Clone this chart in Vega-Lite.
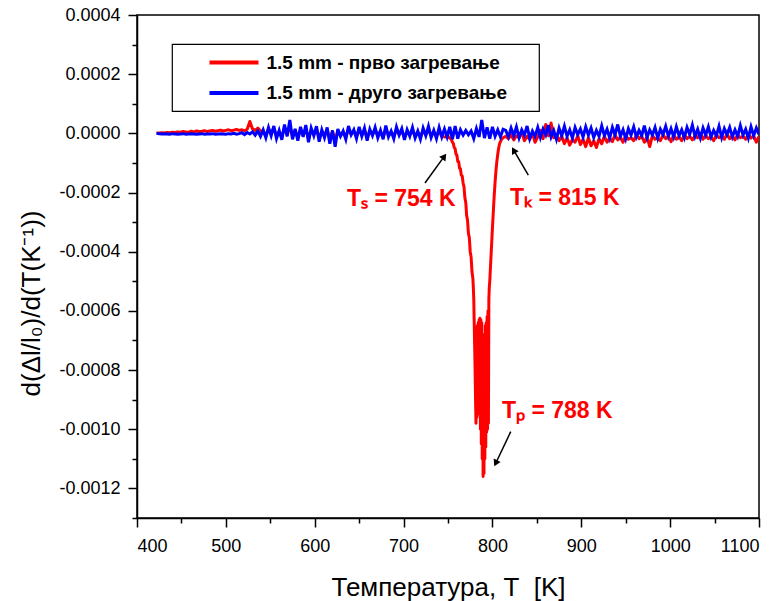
{
"$schema": "https://vega.github.io/schema/vega-lite/v6.json",
"width": 622, "height": 503,
"autosize": {"type": "none"},
"padding": {"left": 137, "top": 15, "right": 22, "bottom": 83},
"background": "white",
"datasets": {
"red": [
{"T":422,"v":0},{"T":425,"v":1e-6},{"T":428,"v":2e-6},{"T":431,"v":1e-6},{"T":434,"v":3e-6},{"T":437,"v":2e-6},{"T":440,"v":4e-6},{"T":443,"v":3e-6},{"T":446,"v":5e-6},{"T":449,"v":4e-6},{"T":452,"v":6e-6},{"T":455,"v":5e-6},{"T":458,"v":4e-6},{"T":461,"v":7e-6},{"T":464,"v":5e-6},{"T":467,"v":8e-6},{"T":470,"v":6e-6},{"T":473,"v":7e-6},{"T":476,"v":9e-6},{"T":479,"v":6e-6},{"T":482,"v":8e-6},{"T":485,"v":10e-6},{"T":488,"v":7e-6},{"T":491,"v":9e-6},{"T":494,"v":11e-6},{"T":497,"v":8e-6},{"T":500,"v":10e-6},{"T":503,"v":12e-6},{"T":506,"v":9e-6},{"T":509,"v":11e-6},{"T":512,"v":13e-6},{"T":515,"v":10e-6},{"T":518,"v":12e-6},{"T":521,"v":9e-6},{"T":524,"v":14e-6},{"T":527,"v":40e-6},{"T":530,"v":15e-6},{"T":533,"v":10e-6},{"T":536,"v":18e-6},{"T":539,"v":8e-6},
{"T":542,"v":5e-6},{"T":545,"v":-8e-6},{"T":548,"v":15e-6},{"T":551,"v":0},{"T":554,"v":18e-6},{"T":557,"v":-10e-6},{"T":560,"v":5e-6},{"T":563,"v":-12e-6},{"T":566,"v":20e-6},{"T":569,"v":-5e-6},{"T":572,"v":25e-6},{"T":575,"v":-10e-6},{"T":578,"v":10e-6},{"T":581,"v":-15e-6},{"T":584,"v":12e-6},{"T":587,"v":-6e-6},{"T":590,"v":15e-6},{"T":593,"v":-18e-6},{"T":596,"v":10e-6},{"T":599,"v":-4e-6},{"T":602,"v":14e-6},{"T":605,"v":-16e-6},{"T":608,"v":6e-6},{"T":611,"v":-8e-6},{"T":614,"v":12e-6},{"T":617,"v":-20e-6},{"T":620,"v":6e-6},{"T":623,"v":-25e-6},{"T":626,"v":8e-6},{"T":629,"v":-6e-6},{"T":632,"v":4e-6},{"T":635,"v":-12e-6},{"T":638,"v":15e-6},{"T":641,"v":-3e-6},{"T":644,"v":8e-6},{"T":647,"v":-10e-6},{"T":650,"v":12e-6},{"T":653,"v":-6e-6},{"T":656,"v":10e-6},{"T":659,"v":-14e-6},{"T":662,"v":8e-6},{"T":665,"v":-4e-6},{"T":668,"v":12e-6},{"T":671,"v":-8e-6},{"T":674,"v":6e-6},{"T":677,"v":-12e-6},{"T":680,"v":15e-6},{"T":683,"v":-6e-6},{"T":686,"v":4e-6},{"T":689,"v":-10e-6},{"T":692,"v":12e-6},{"T":695,"v":-4e-6},{"T":698,"v":8e-6},{"T":701,"v":-12e-6},{"T":704,"v":6e-6},{"T":707,"v":-6e-6},{"T":710,"v":10e-6},{"T":713,"v":-10e-6},{"T":716,"v":4e-6},{"T":719,"v":-12e-6},{"T":722,"v":10e-6},{"T":725,"v":-5e-6},{"T":728,"v":12e-6},{"T":731,"v":-8e-6},{"T":734,"v":5e-6},{"T":737,"v":-10e-6},{"T":740,"v":8e-6},{"T":743,"v":-10e-6},{"T":746,"v":-12e-6},
{"T":747,"v":-12e-6},{"T":748,"v":-10e-6},{"T":749,"v":-12e-6},{"T":750,"v":-14e-6},{"T":751,"v":-12e-6},{"T":752,"v":-16e-6},{"T":753,"v":-18e-6},{"T":754,"v":-22e-6},{"T":755,"v":-30e-6},{"T":756,"v":-34e-6},{"T":757,"v":-48e-6},{"T":758,"v":-52e-6},{"T":759,"v":-70e-6},{"T":760,"v":-74e-6},{"T":761,"v":-95e-6},{"T":762,"v":-96e-6},{"T":763,"v":-118e-6},{"T":764,"v":-120e-6},{"T":765,"v":-142e-6},{"T":766,"v":-144e-6},{"T":767,"v":-168e-6},{"T":768,"v":-180e-6},{"T":769,"v":-218e-6},{"T":770,"v":-234e-6},{"T":771,"v":-278e-6},{"T":772,"v":-294e-6},{"T":773,"v":-338e-6},{"T":774,"v":-352e-6},{"T":775,"v":-400e-6},{"T":776,"v":-418e-6},{"T":777,"v":-468e-6},{"T":778,"v":-490e-6},
{"T":778.5,"v":-520e-6},{"T":779,"v":-560e-6},{"T":779.5,"v":-640e-6},{"T":780,"v":-720e-6},{"T":780.5,"v":-800e-6},{"T":781,"v":-900e-6},{"T":781.5,"v":-980e-6},{"T":782,"v":-700e-6},{"T":782.5,"v":-960e-6},{"T":783,"v":-650e-6},{"T":783.5,"v":-920e-6},{"T":784,"v":-640e-6},{"T":784.5,"v":-900e-6},{"T":785,"v":-630e-6},{"T":785.5,"v":-950e-6},{"T":786,"v":-625e-6},{"T":786.5,"v":-1000e-6},{"T":787,"v":-630e-6},{"T":787.5,"v":-1050e-6},{"T":788,"v":-640e-6},{"T":788.5,"v":-1100e-6},{"T":789,"v":-700e-6},{"T":789.5,"v":-1160e-6},{"T":790,"v":-720e-6},{"T":790.5,"v":-1150e-6},{"T":791,"v":-680e-6},{"T":791.5,"v":-1100e-6},{"T":792,"v":-650e-6},{"T":792.5,"v":-1060e-6},{"T":793,"v":-640e-6},{"T":793.5,"v":-1010e-6},{"T":794,"v":-620e-6},{"T":794.5,"v":-1000e-6},{"T":795,"v":-600e-6},{"T":795.5,"v":-980e-6},{"T":796,"v":-560e-6},{"T":796.5,"v":-520e-6},{"T":797,"v":-500e-6},
{"T":798,"v":-440e-6},{"T":799,"v":-380e-6},{"T":800,"v":-320e-6},{"T":801,"v":-265e-6},{"T":802,"v":-210e-6},{"T":803,"v":-165e-6},{"T":804,"v":-125e-6},{"T":805,"v":-95e-6},{"T":806,"v":-70e-6},{"T":807,"v":-50e-6},{"T":808,"v":-36e-6},{"T":809,"v":-28e-6},{"T":810,"v":-22e-6},{"T":811,"v":-18e-6},{"T":812,"v":-15e-6},
{"T":815,"v":-10e-6},{"T":818,"v":-18e-6},{"T":821,"v":-5e-6},{"T":824,"v":-22e-6},{"T":827,"v":-8e-6},{"T":830,"v":-15e-6},{"T":833,"v":5e-6},{"T":836,"v":-25e-6},{"T":839,"v":-10e-6},{"T":842,"v":-20e-6},{"T":845,"v":0},{"T":848,"v":-30e-6},{"T":851,"v":-12e-6},{"T":854,"v":10e-6},{"T":857,"v":-18e-6},{"T":860,"v":30e-6},{"T":863,"v":-8e-6},{"T":866,"v":35e-6},{"T":869,"v":-15e-6},{"T":872,"v":-5e-6},{"T":875,"v":-25e-6},{"T":878,"v":-10e-6},{"T":881,"v":-35e-6},{"T":884,"v":-15e-6},{"T":887,"v":-40e-6},{"T":890,"v":-20e-6},{"T":893,"v":-30e-6},{"T":896,"v":-8e-6},{"T":899,"v":-38e-6},{"T":902,"v":-20e-6},{"T":905,"v":-45e-6},{"T":908,"v":-15e-6},{"T":911,"v":-42e-6},{"T":914,"v":-25e-6},{"T":917,"v":-48e-6},{"T":920,"v":-18e-6},{"T":923,"v":-35e-6},{"T":926,"v":-10e-6},{"T":929,"v":-30e-6},{"T":932,"v":-15e-6},{"T":935,"v":-28e-6},{"T":938,"v":-5e-6},{"T":941,"v":-22e-6},{"T":944,"v":-12e-6},{"T":947,"v":-30e-6},{"T":950,"v":-8e-6},{"T":953,"v":-20e-6},{"T":956,"v":-15e-6},{"T":959,"v":-25e-6},{"T":962,"v":-5e-6},{"T":965,"v":-18e-6},{"T":968,"v":-10e-6},{"T":971,"v":-30e-6},{"T":974,"v":-12e-6},{"T":977,"v":-45e-6},{"T":980,"v":-8e-6},{"T":983,"v":-20e-6},{"T":986,"v":-15e-6},{"T":989,"v":-25e-6},{"T":992,"v":-5e-6},{"T":995,"v":-18e-6},{"T":998,"v":-10e-6},{"T":1001,"v":-28e-6},{"T":1004,"v":-6e-6},{"T":1007,"v":-20e-6},{"T":1010,"v":-12e-6},{"T":1013,"v":-25e-6},{"T":1016,"v":-4e-6},{"T":1019,"v":-18e-6},{"T":1022,"v":-10e-6},{"T":1025,"v":-22e-6},{"T":1028,"v":-8e-6},{"T":1031,"v":-15e-6},{"T":1034,"v":0},{"T":1037,"v":-20e-6},{"T":1040,"v":-6e-6},{"T":1043,"v":-18e-6},{"T":1046,"v":-12e-6},{"T":1049,"v":-25e-6},{"T":1052,"v":-5e-6},{"T":1055,"v":-15e-6},{"T":1058,"v":-10e-6},{"T":1061,"v":-20e-6},{"T":1064,"v":-2e-6},{"T":1067,"v":-18e-6},{"T":1070,"v":-8e-6},{"T":1073,"v":-22e-6},{"T":1076,"v":-5e-6},{"T":1079,"v":-15e-6},{"T":1082,"v":-10e-6},{"T":1085,"v":-20e-6},{"T":1088,"v":-4e-6},{"T":1091,"v":-16e-6},{"T":1094,"v":-8e-6},{"T":1097,"v":-30e-6},{"T":1100,"v":-10e-6}
],
"blue": [
{"T":422,"v":0},{"T":425,"v":-1e-6},{"T":428,"v":-2e-6},{"T":431,"v":-1e-6},{"T":434,"v":-2e-6},{"T":437,"v":-3e-6},{"T":440,"v":-1e-6},{"T":443,"v":-2e-6},{"T":446,"v":-3e-6},{"T":449,"v":-2e-6},{"T":452,"v":-1e-6},{"T":455,"v":-3e-6},{"T":458,"v":-2e-6},{"T":461,"v":-1e-6},{"T":464,"v":-2e-6},{"T":467,"v":-3e-6},{"T":470,"v":-2e-6},{"T":473,"v":-1e-6},{"T":476,"v":-3e-6},{"T":479,"v":-2e-6},{"T":482,"v":-2e-6},{"T":485,"v":-1e-6},{"T":488,"v":-3e-6},{"T":491,"v":-2e-6},{"T":494,"v":-1e-6},{"T":497,"v":-2e-6},{"T":500,"v":-3e-6},{"T":503,"v":-1e-6},{"T":506,"v":-2e-6},{"T":509,"v":0},{"T":512,"v":-3e-6},{"T":515,"v":-1e-6},{"T":518,"v":2e-6},{"T":521,"v":-4e-6},{"T":524,"v":3e-6},{"T":527,"v":-2e-6},{"T":530,"v":5e-6},{"T":533,"v":-6e-6},{"T":536,"v":8e-6},{"T":539,"v":-10e-6},
{"T":542,"v":12e-6},{"T":545,"v":-15e-6},{"T":548,"v":20e-6},{"T":551,"v":-8e-6},{"T":554,"v":25e-6},{"T":557,"v":-18e-6},{"T":560,"v":10e-6},{"T":563,"v":-22e-6},{"T":566,"v":30e-6},{"T":569,"v":-10e-6},{"T":572,"v":45e-6},{"T":575,"v":-20e-6},{"T":578,"v":15e-6},{"T":581,"v":-25e-6},{"T":584,"v":22e-6},{"T":587,"v":-12e-6},{"T":590,"v":28e-6},{"T":593,"v":-30e-6},{"T":596,"v":18e-6},{"T":599,"v":-8e-6},{"T":602,"v":24e-6},{"T":605,"v":-28e-6},{"T":608,"v":12e-6},{"T":611,"v":-15e-6},{"T":614,"v":20e-6},{"T":617,"v":-35e-6},{"T":620,"v":10e-6},{"T":623,"v":-45e-6},{"T":626,"v":15e-6},{"T":629,"v":-10e-6},{"T":632,"v":8e-6},{"T":635,"v":-20e-6},{"T":638,"v":25e-6},{"T":641,"v":-5e-6},{"T":644,"v":12e-6},{"T":647,"v":-18e-6},{"T":650,"v":22e-6},{"T":653,"v":-10e-6},{"T":656,"v":18e-6},{"T":659,"v":-25e-6},{"T":662,"v":14e-6},{"T":665,"v":-8e-6},{"T":668,"v":20e-6},{"T":671,"v":-15e-6},{"T":674,"v":10e-6},{"T":677,"v":-20e-6},{"T":680,"v":26e-6},{"T":683,"v":-12e-6},{"T":686,"v":8e-6},{"T":689,"v":-18e-6},{"T":692,"v":22e-6},{"T":695,"v":-6e-6},{"T":698,"v":16e-6},{"T":701,"v":-22e-6},{"T":704,"v":12e-6},{"T":707,"v":-10e-6},{"T":710,"v":20e-6},{"T":713,"v":-16e-6},{"T":716,"v":8e-6},{"T":719,"v":-20e-6},{"T":722,"v":18e-6},{"T":725,"v":-8e-6},{"T":728,"v":24e-6},{"T":731,"v":-14e-6},{"T":734,"v":10e-6},{"T":737,"v":-18e-6},{"T":740,"v":20e-6},{"T":743,"v":-12e-6},{"T":746,"v":15e-6},
{"T":749,"v":-12e-6},{"T":752,"v":22e-6},{"T":755,"v":-20e-6},{"T":758,"v":25e-6},{"T":761,"v":-18e-6},{"T":764,"v":12e-6},{"T":767,"v":-6e-6},{"T":770,"v":10e-6},{"T":773,"v":-5e-6},{"T":776,"v":8e-6},{"T":779,"v":-18e-6},{"T":782,"v":16e-6},{"T":785,"v":-12e-6},{"T":788,"v":45e-6},{"T":791,"v":-16e-6},{"T":794,"v":20e-6},{"T":797,"v":-18e-6},{"T":800,"v":22e-6},{"T":803,"v":-10e-6},{"T":806,"v":12e-6},{"T":809,"v":-12e-6},{"T":812,"v":14e-6},
{"T":815,"v":10e-6},{"T":818,"v":-12e-6},{"T":821,"v":18e-6},{"T":824,"v":-8e-6},{"T":827,"v":22e-6},{"T":830,"v":-15e-6},{"T":833,"v":12e-6},{"T":836,"v":-6e-6},{"T":839,"v":25e-6},{"T":842,"v":-18e-6},{"T":845,"v":8e-6},{"T":848,"v":-10e-6},{"T":851,"v":20e-6},{"T":854,"v":-14e-6},{"T":857,"v":15e-6},{"T":860,"v":-5e-6},{"T":863,"v":28e-6},{"T":866,"v":-12e-6},{"T":869,"v":10e-6},{"T":872,"v":-20e-6},{"T":875,"v":18e-6},{"T":878,"v":-8e-6},{"T":881,"v":24e-6},{"T":884,"v":-10e-6},{"T":887,"v":12e-6},{"T":890,"v":-16e-6},{"T":893,"v":20e-6},{"T":896,"v":-4e-6},{"T":899,"v":15e-6},{"T":902,"v":-12e-6},{"T":905,"v":22e-6},{"T":908,"v":-6e-6},{"T":911,"v":18e-6},{"T":914,"v":-14e-6},{"T":917,"v":10e-6},{"T":920,"v":-10e-6},{"T":923,"v":25e-6},{"T":926,"v":-8e-6},{"T":929,"v":14e-6},{"T":932,"v":-16e-6},{"T":935,"v":20e-6},{"T":938,"v":-5e-6},{"T":941,"v":30e-6},{"T":944,"v":-10e-6},{"T":947,"v":12e-6},{"T":950,"v":-18e-6},{"T":953,"v":16e-6},{"T":956,"v":-6e-6},{"T":959,"v":22e-6},{"T":962,"v":-12e-6},{"T":965,"v":10e-6},{"T":968,"v":-8e-6},{"T":971,"v":26e-6},{"T":974,"v":-14e-6},{"T":977,"v":12e-6},{"T":980,"v":-6e-6},{"T":983,"v":20e-6},{"T":986,"v":-16e-6},{"T":989,"v":14e-6},{"T":992,"v":-4e-6},{"T":995,"v":24e-6},{"T":998,"v":-10e-6},{"T":1001,"v":16e-6},{"T":1004,"v":-12e-6},{"T":1007,"v":22e-6},{"T":1010,"v":-8e-6},{"T":1013,"v":12e-6},{"T":1016,"v":-14e-6},{"T":1019,"v":20e-6},{"T":1022,"v":-4e-6},{"T":1025,"v":28e-6},{"T":1028,"v":-10e-6},{"T":1031,"v":14e-6},{"T":1034,"v":-16e-6},{"T":1037,"v":18e-6},{"T":1040,"v":-6e-6},{"T":1043,"v":22e-6},{"T":1046,"v":-12e-6},{"T":1049,"v":10e-6},{"T":1052,"v":-8e-6},{"T":1055,"v":24e-6},{"T":1058,"v":-14e-6},{"T":1061,"v":16e-6},{"T":1064,"v":-4e-6},{"T":1067,"v":20e-6},{"T":1070,"v":-12e-6},{"T":1073,"v":12e-6},{"T":1076,"v":-10e-6},{"T":1079,"v":26e-6},{"T":1082,"v":-6e-6},{"T":1085,"v":14e-6},{"T":1088,"v":-16e-6},{"T":1091,"v":22e-6},{"T":1094,"v":-8e-6},{"T":1097,"v":18e-6},{"T":1100,"v":-4e-6}
],
"arrows": [
{"T":724.1,"v":-168e-6,"T2":745.8,"v2":-78e-6},
{"T":840.4,"v":-141e-6,"T2":823.9,"v2":-57e-6},
{"T":820.6,"v":-1008e-6,"T2":803.7,"v2":-1115e-6}
],
"notes": [
{"T":636.3,"v":-223e-6,"label":"Tₛ = 754 K"},
{"T":819.8,"v":-218.5e-6,"label":"Tₖ = 815 K"},
{"T":810.8,"v":-936.7e-6,"label":"Tₚ = 788 K"}
]
},
"encoding": {
  "x": {"field": "T", "type": "quantitative",
        "scale": {"domain": [400, 1100], "nice": false, "zero": false},
        "axis": {"title": "Температура, T\u00a0 [K]", "format": "d", "values": [400,450,500,550,600,650,700,750,800,850,900,950,1000,1050,1100],
                 "labelExpr": "indexof([400,500,600,700,800,900,1000,1100], datum.value) >= 0 ? datum.label : ''",
                 "tickSize": {"condition": {"test": "indexof([400,500,600,700,800,900,1000,1100], datum.value) >= 0", "value": 9}, "value": 5},
                 "labelPadding": 10, "titlePadding": 19, "labelOverlap": false}},
  "y": {"field": "v", "type": "quantitative",
        "scale": {"domain": [-0.0013, 0.0004], "nice": false, "zero": false},
        "axis": {"title": "d(Δl/l₀)/d(T(K⁻¹))",
                 "values": [-0.0013,-0.0012,-0.0011,-0.001,-0.0009,-0.0008,-0.0007,-0.0006,-0.0005,-0.0004,-0.0003,-0.0002,-0.0001,0,0.0001,0.0002,0.0003,0.0004],
                 "labelExpr": "indexof([-0.0012,-0.001,-0.0008,-0.0006,-0.0004,-0.0002,0,0.0002,0.0004], datum.value) >= 0 ? (datum.value < 0 ? '-' : '') + format(abs(datum.value), '.4f') : ''",
                 "tickSize": {"condition": {"test": "indexof([-0.0012,-0.001,-0.0008,-0.0006,-0.0004,-0.0002,0,0.0002,0.0004], datum.value) >= 0", "value": 9}, "value": 5},
                 "labelPadding": 8, "titlePadding": 14, "titleY": 288, "labelOverlap": false}}
},
"layer": [
{"data": {"name": "red"},
 "mark": {"type": "line", "strokeWidth": 3, "strokeJoin": "round", "clip": true},
 "encoding": {
  "color": {"datum": "1.5 mm - прво загревање",
            "scale": {"domain": ["1.5 mm - прво загревање", "1.5 mm - друго загревање"], "range": ["#ff0000", "#0000ff"]},
            "legend": {"orient": "none", "legendX": 35, "legendY": 29, "title": "\u00a0", "titleOrient": "right", "titleFontSize": 10, "titlePadding": 24,
                       "symbolType": "M-3,0L3,0", "symbolSize": 267, "symbolStrokeWidth": 4, "symbolOffset": 43.5,
                       "labelOffset": 22, "padding": 8, "rowPadding": 9.5,
                       "strokeColor": "black", "fillColor": "white",
                       "labelFont": "Liberation Sans", "labelFontSize": 19, "labelFontWeight": "bold", "labelColor": "black", "labelLimit": 500}}
 }},
{"data": {"name": "blue"},
 "mark": {"type": "line", "strokeWidth": 3, "clip": true},
 "encoding": {"color": {"datum": "1.5 mm - друго загревање"}}},
{"data": {"name": "arrows"},
 "mark": {"type": "rule", "color": "black", "strokeWidth": 1.5},
 "encoding": {"x2": {"field": "T2"}, "y2": {"field": "v2"}}},
{"data": {"values": [{"T": 745.8, "v": -78e-6}]},
 "mark": {"type": "point", "shape": "triangle-up", "filled": true, "color": "black", "size": 60, "opacity": 1, "angle": 36},
 "encoding": {}},
{"data": {"values": [{"T": 823.9, "v": -57e-6}]},
 "mark": {"type": "point", "shape": "triangle-up", "filled": true, "color": "black", "size": 60, "opacity": 1, "angle": 330},
 "encoding": {}},
{"data": {"values": [{"T": 803.7, "v": -1115e-6}]},
 "mark": {"type": "point", "shape": "triangle-up", "filled": true, "color": "black", "size": 60, "opacity": 1, "angle": 205.5},
 "encoding": {}},
{"data": {"name": "notes"},
 "mark": {"type": "text", "align": "left", "baseline": "middle", "font": "Liberation Sans", "fontSize": 23, "fontWeight": "bold", "color": "#ff0000"},
 "encoding": {"text": {"field": "label"}}}
],
"config": {
 "view": {"stroke": "black", "strokeWidth": 1.5},
 "axis": {"grid": false, "domainColor": "black", "domainWidth": 1.5, "tickColor": "black", "tickWidth": 1.5,
          "labelFont": "Liberation Sans", "labelFontSize": 18, "labelColor": "black",
          "titleFont": "Liberation Sans", "titleFontSize": 26, "titleFontWeight": "normal", "titleColor": "black"},
 "legend": {"strokeWidth": 1.2}
}
}
